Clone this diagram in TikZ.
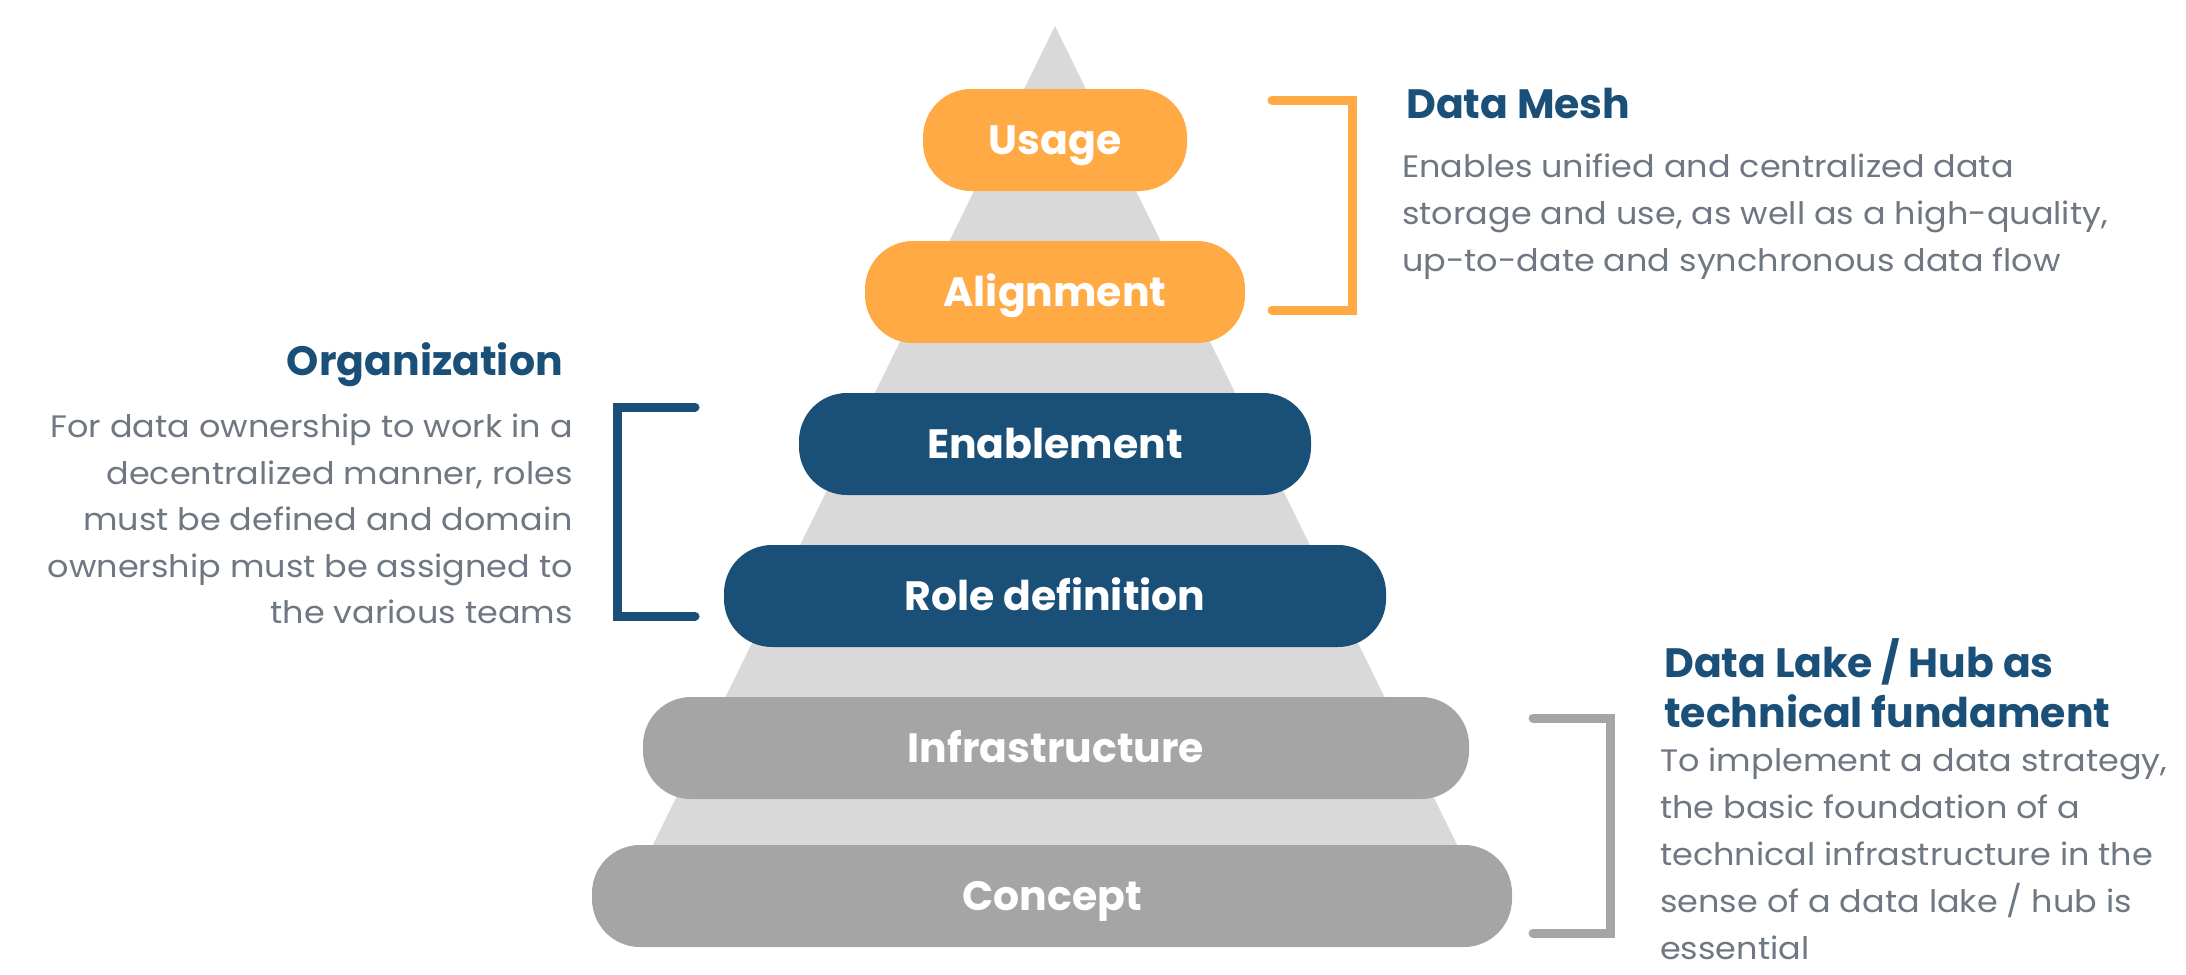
\documentclass[tikz,border=0pt]{standalone}
\usepackage{fontspec}
\setmainfont{Poppins}
\newfontfamily\bodyfont[FakeStretch=1.08]{Poppins}
\definecolor{orng}{HTML}{FFAA44}
\definecolor{dblue}{HTML}{1A4F78}
\definecolor{gbar}{HTML}{A5A5A5}
\definecolor{tri}{HTML}{D9D9D9}
\definecolor{txtgrey}{HTML}{6F7782}
\begin{document}
\begin{tikzpicture}[x=1pt,y=-1pt,
  bar/.style={rounded corners=48pt, minimum height=102pt, inner sep=0pt,
    text=white, font=\fontsize{41}{41}\selectfont\bfseries,
    text height=29pt, text depth=0pt},
  head/.style={font=\fontsize{41}{50}\selectfont\bfseries, text=dblue, inner sep=0pt},
  body/.style={font=\bodyfont\fontsize{31}{47}\selectfont, text=txtgrey, inner sep=0pt},
  brk/.style={line width=9pt, line cap=round, line join=miter}
]
\useasboundingbox (0,0) rectangle (2186,974);
% pyramid triangle
\fill[tri] (1055,26) -- (616,920) -- (1494,920) -- cycle;
% bars
\node[bar, fill=orng, minimum width=264pt] (usage) at (1055,140) {Usage};
\node[bar, fill=orng, minimum width=380pt] (align) at (1055,292) {Alignment};
\node[bar, fill=dblue, minimum width=512pt] (enab) at (1055,444) {Enablement};
\node[bar, fill=dblue, minimum width=662pt] (role) at (1055,596) {Role definition};
\node[bar, fill=gbar, minimum width=826pt] (infra) at (1056,748) {Infrastructure};
\node[bar, fill=gbar, minimum width=920pt] (concept) at (1052,896) {Concept};
% brackets
\coordinate (m1) at (1272,100); \coordinate (m2) at (1352,100);
\coordinate (m3) at (1352,310); \coordinate (m4) at (1272,310);
\draw[brk, orng] (m1) -- (m2) -- (m3) -- (m4);
\coordinate (o1) at (695,407); \coordinate (o2) at (617,407);
\coordinate (o3) at (617,616); \coordinate (o4) at (695,616);
\draw[brk, dblue] (o1) -- (o2) -- (o3) -- (o4);
\coordinate (l1) at (1533,718); \coordinate (l2) at (1610,718);
\coordinate (l3) at (1610,933); \coordinate (l4) at (1533,933);
\draw[brk, gbar] (l1) -- (l2) -- (l3) -- (l4);
% texts
\node[head, anchor=base west] (meshh) at (1406,118) {Data Mesh};
\node[body, anchor=north west, align=left] (meshb) at (1402,154)
  {Enables unified and centralized data\\storage and use, as well as a high-quality,\\up-to-date and synchronous data flow};
\node[head, anchor=base east] (orgh) at (563,375) {Organization};
\node[body, anchor=north east, align=right, font=\bodyfont\fontsize{31}{46.5}\selectfont] (orgb) at (573,414)
  {For data ownership to work in a\\decentralized manner, roles\\must be defined and domain\\ownership must be assigned to\\the various teams};
\node[head, anchor=north west, align=left] (lakeh) at (1664,638)
  {Data Lake / Hub as\\technical fundament};
\node[body, anchor=north west, align=left, font=\bodyfont\fontsize{31}{47}\selectfont] (lakeb) at (1660,748)
  {To implement a data strategy,\\the basic foundation of a\\technical infrastructure in the\\sense of a data lake / hub is\\essential};
\end{tikzpicture}
\end{document}
